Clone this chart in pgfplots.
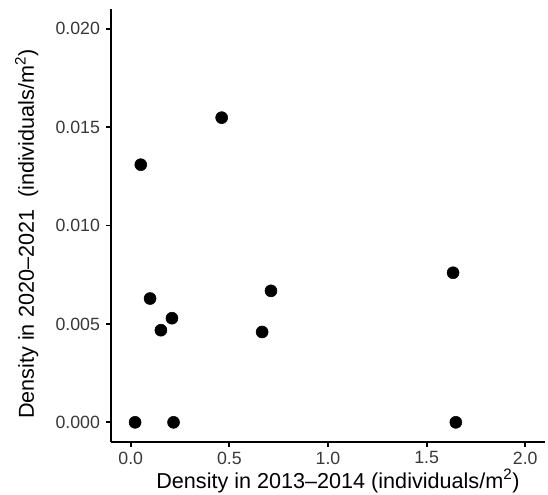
\documentclass[border=0pt]{standalone}
\usepackage{pgfplots}
\pgfplotsset{compat=1.18}
\usepackage{fontspec}
\setmainfont{Liberation Sans}
\begin{document}
\begin{tikzpicture}[x=1pt,y=1pt]
\begin{axis}[
  scale only axis,
  width=325.5pt, height=324.75pt,
  xmin=-0.1, xmax=2.1,
  ymin=-0.001, ymax=0.021,
  axis lines=left,
  axis line style={-, line width=1.4pt, black},
  tick style={line width=1.4pt, black},
  tick align=outside,
  major tick length=3.75pt,
  xtick={0,0.5,1,1.5,2},
  ytick={0,0.005,0.01,0.015,0.02},
  xticklabel style={/pgf/number format/fixed, /pgf/number format/fixed zerofill, /pgf/number format/precision=1},
  yticklabel style={/pgf/number format/fixed, /pgf/number format/fixed zerofill, /pgf/number format/precision=3, xshift=-1pt},
  scaled y ticks=false,
  /pgf/number format/assume math mode=true,
  ticklabel style={font=\fontsize{13.3}{16}\selectfont, text=black!78},
  label style={font=\fontsize{16.2}{19}\selectfont},
  xlabel={Density in 2013--2014 (individuals/m\textsuperscript{2})},
  ylabel={Density in 2020--2021\ \ (individuals/m\textsuperscript{2})},
  xlabel style={at={(ticklabel cs:0.523,-3pt)}},
  ylabel style={at={(ticklabel cs:0.48,6pt)}},
  clip=false,
]
\addplot[only marks, mark=*, mark size=4.5pt, mark options={fill=black, draw=black}] coordinates {
  (0.022,0) (0.217,0) (1.648,0)
  (0.051,0.01309) (0.461,0.01548)
  (0.098,0.00629) (0.153,0.00468) (0.209,0.00529)
  (0.666,0.00459) (0.711,0.00668) (1.634,0.0076)
};
\end{axis}
\pgfresetboundingbox
\path ([xshift=-83.25pt,yshift=-39pt]current axis.south west) rectangle ([xshift=2.25pt,yshift=6.75pt]current axis.north east);
\end{tikzpicture}
\end{document}
